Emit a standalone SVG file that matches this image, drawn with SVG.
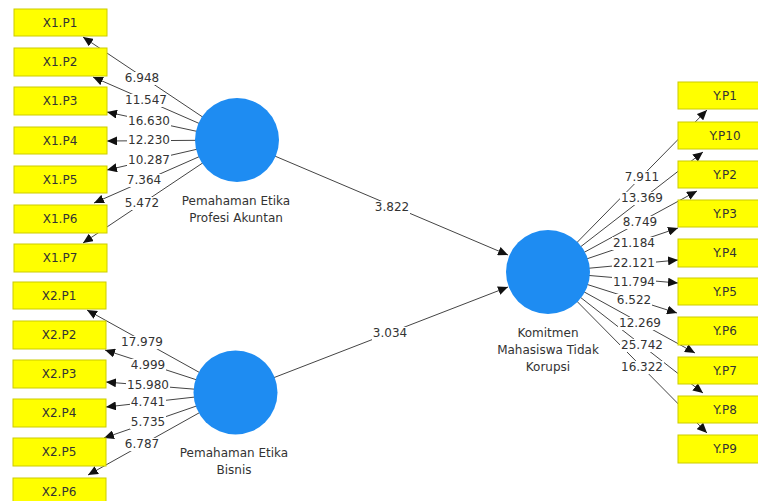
<svg xmlns="http://www.w3.org/2000/svg" width="758" height="501" viewBox="0 0 758 501">
<defs>
<marker id="ah" markerUnits="userSpaceOnUse" markerWidth="11" markerHeight="9" refX="10" refY="4.5" orient="auto">
<path d="M0,0 L10,4.5 L0,9 z" fill="#111"/>
</marker>
<style>
.box{fill:#ffff00;stroke:#cccc00;stroke-width:1}
.bt{font-family:"DejaVu Sans",sans-serif;font-size:12px;fill:#333;text-anchor:middle}
.lv{font-family:"DejaVu Sans",sans-serif;font-size:12px;fill:#333;text-anchor:middle}
.bg{fill:#fff}
.nl{font-family:"DejaVu Sans",sans-serif;font-size:12px;fill:#333;text-anchor:middle}
.ln{stroke:#444;stroke-width:1;fill:none;marker-end:url(#ah)}
.cir{fill:#1e8cf2}
</style>
</defs>
<rect width="758" height="501" fill="#fff"/>
<g id="connectors">
<line class="ln" x1="237" y1="140" x2="83" y2="37"/>
<line class="ln" x1="237" y1="140" x2="93" y2="77"/>
<line class="ln" x1="237" y1="140" x2="107" y2="112"/>
<line class="ln" x1="237" y1="140" x2="107" y2="141"/>
<line class="ln" x1="237" y1="140" x2="107" y2="170"/>
<line class="ln" x1="237" y1="140" x2="94" y2="203"/>
<line class="ln" x1="237" y1="140" x2="83" y2="243"/>
<line class="ln" x1="235.5" y1="392.5" x2="87" y2="310"/>
<line class="ln" x1="235.5" y1="392.5" x2="105" y2="350"/>
<line class="ln" x1="235.5" y1="392.5" x2="106" y2="382"/>
<line class="ln" x1="235.5" y1="392.5" x2="106" y2="407"/>
<line class="ln" x1="235.5" y1="392.5" x2="104" y2="438"/>
<line class="ln" x1="235.5" y1="392.5" x2="88" y2="475"/>
<line class="ln" x1="548" y1="272" x2="707" y2="110"/>
<line class="ln" x1="548" y1="272" x2="703" y2="152"/>
<line class="ln" x1="548" y1="272" x2="697" y2="191"/>
<line class="ln" x1="548" y1="272" x2="678" y2="228"/>
<line class="ln" x1="548" y1="272" x2="678" y2="260"/>
<line class="ln" x1="548" y1="272" x2="678" y2="283"/>
<line class="ln" x1="548" y1="272" x2="677" y2="313"/>
<line class="ln" x1="548" y1="272" x2="695" y2="353"/>
<line class="ln" x1="548" y1="272" x2="703" y2="393"/>
<line class="ln" x1="548" y1="272" x2="707" y2="433"/>
<line class="ln" x1="237" y1="140" x2="508" y2="255"/>
<line class="ln" x1="235.5" y1="392.5" x2="508" y2="287"/>
<g class="bg">
<rect x="124" y="72" width="36" height="13"/>
<rect x="124" y="94" width="44" height="13"/>
<rect x="127" y="115" width="44" height="13"/>
<rect x="127" y="134" width="44" height="13"/>
<rect x="127" y="154" width="44" height="13"/>
<rect x="126" y="174" width="36" height="13"/>
<rect x="124" y="197" width="36" height="13"/>
<rect x="120" y="336" width="44" height="13"/>
<rect x="130" y="359" width="36" height="13"/>
<rect x="126" y="379" width="44" height="13"/>
<rect x="130" y="396" width="36" height="13"/>
<rect x="130" y="416" width="36" height="13"/>
<rect x="124" y="438" width="36" height="13"/>
<rect x="624" y="171" width="36" height="13"/>
<rect x="620" y="192" width="44" height="13"/>
<rect x="622" y="216" width="36" height="13"/>
<rect x="612" y="237" width="44" height="13"/>
<rect x="612" y="257" width="44" height="13"/>
<rect x="612" y="276" width="44" height="13"/>
<rect x="616" y="294" width="36" height="13"/>
<rect x="618" y="317" width="44" height="13"/>
<rect x="620" y="339" width="44" height="13"/>
<rect x="620" y="361" width="44" height="13"/>
<rect x="374" y="201" width="36" height="13"/>
<rect x="372" y="327" width="36" height="13"/>
</g>
<text class="lv" x="142" y="82">6.948</text>
<text class="lv" x="146" y="104">11.547</text>
<text class="lv" x="149" y="125">16.630</text>
<text class="lv" x="149" y="144">12.230</text>
<text class="lv" x="149" y="164">10.287</text>
<text class="lv" x="144" y="184">7.364</text>
<text class="lv" x="142" y="207">5.472</text>
<text class="lv" x="142" y="346">17.979</text>
<text class="lv" x="148" y="369">4.999</text>
<text class="lv" x="148" y="389">15.980</text>
<text class="lv" x="148" y="406">4.741</text>
<text class="lv" x="148" y="426">5.735</text>
<text class="lv" x="142" y="448">6.787</text>
<text class="lv" x="642" y="181">7.911</text>
<text class="lv" x="642" y="202">13.369</text>
<text class="lv" x="640" y="226">8.749</text>
<text class="lv" x="634" y="247">21.184</text>
<text class="lv" x="634" y="267">22.121</text>
<text class="lv" x="634" y="286">11.794</text>
<text class="lv" x="634" y="304">6.522</text>
<text class="lv" x="640" y="327">12.269</text>
<text class="lv" x="642" y="349">25.742</text>
<text class="lv" x="642" y="371">16.322</text>
<text class="lv" x="392" y="211">3.822</text>
<text class="lv" x="390" y="337">3.034</text>
</g>
<g id="X1">
<circle class="cir" cx="237" cy="140" r="42"/>
<text class="nl" x="236" y="205">Pemahaman Etika</text>
<text class="nl" x="236" y="222">Profesi Akuntan</text>
</g>
<g id="X2">
<circle class="cir" cx="235.5" cy="392.5" r="42"/>
<text class="nl" x="234" y="457">Pemahaman Etika</text>
<text class="nl" x="234" y="474">Bisnis</text>
</g>
<g id="Y">
<circle class="cir" cx="548" cy="272" r="42"/>
<text class="nl" x="548" y="337">Komitmen</text>
<text class="nl" x="548" y="354">Mahasiswa Tidak</text>
<text class="nl" x="548" y="371">Korupsi</text>
</g>
<g id="X1.P1"><rect class="box" x="14" y="9" width="93" height="27"/><text class="bt" x="60" y="27">X1.P1</text></g>
<g id="X1.P2"><rect class="box" x="14" y="48" width="93" height="28"/><text class="bt" x="60" y="66">X1.P2</text></g>
<g id="X1.P3"><rect class="box" x="14" y="87" width="93" height="28"/><text class="bt" x="60" y="105">X1.P3</text></g>
<g id="X1.P4"><rect class="box" x="14" y="127" width="93" height="27"/><text class="bt" x="60" y="145">X1.P4</text></g>
<g id="X1.P5"><rect class="box" x="14" y="166" width="93" height="27"/><text class="bt" x="60" y="184">X1.P5</text></g>
<g id="X1.P6"><rect class="box" x="14" y="205" width="93" height="28"/><text class="bt" x="60" y="223">X1.P6</text></g>
<g id="X1.P7"><rect class="box" x="14" y="244" width="93" height="28"/><text class="bt" x="60" y="262">X1.P7</text></g>
<g id="X2.P1"><rect class="box" x="13" y="282" width="93" height="27"/><text class="bt" x="59" y="300">X2.P1</text></g>
<g id="X2.P2"><rect class="box" x="13" y="321" width="93" height="28"/><text class="bt" x="59" y="339">X2.P2</text></g>
<g id="X2.P3"><rect class="box" x="13" y="360" width="93" height="28"/><text class="bt" x="59" y="378">X2.P3</text></g>
<g id="X2.P4"><rect class="box" x="13" y="399" width="93" height="28"/><text class="bt" x="59" y="417">X2.P4</text></g>
<g id="X2.P5"><rect class="box" x="13" y="438" width="93" height="28"/><text class="bt" x="59" y="456">X2.P5</text></g>
<g id="X2.P6"><rect class="box" x="13" y="478" width="93" height="28"/><text class="bt" x="59" y="496">X2.P6</text></g>
<g id="Y.P1"><rect class="box" x="678" y="82" width="92" height="27"/><text class="bt" x="725" y="100">Y.P1</text></g>
<g id="Y.P10"><rect class="box" x="678" y="122" width="92" height="27"/><text class="bt" x="725" y="140">Y.P10</text></g>
<g id="Y.P2"><rect class="box" x="678" y="161" width="92" height="27"/><text class="bt" x="725" y="179">Y.P2</text></g>
<g id="Y.P3"><rect class="box" x="678" y="200" width="92" height="27"/><text class="bt" x="725" y="218">Y.P3</text></g>
<g id="Y.P4"><rect class="box" x="678" y="239" width="92" height="28"/><text class="bt" x="725" y="257">Y.P4</text></g>
<g id="Y.P5"><rect class="box" x="678" y="278" width="92" height="27"/><text class="bt" x="725" y="296">Y.P5</text></g>
<g id="Y.P6"><rect class="box" x="678" y="317" width="92" height="28"/><text class="bt" x="725" y="335">Y.P6</text></g>
<g id="Y.P7"><rect class="box" x="678" y="357" width="92" height="27"/><text class="bt" x="725" y="375">Y.P7</text></g>
<g id="Y.P8"><rect class="box" x="678" y="396" width="92" height="27"/><text class="bt" x="725" y="414">Y.P8</text></g>
<g id="Y.P9"><rect class="box" x="678" y="435" width="92" height="28"/><text class="bt" x="725" y="453">Y.P9</text></g>
</svg>
